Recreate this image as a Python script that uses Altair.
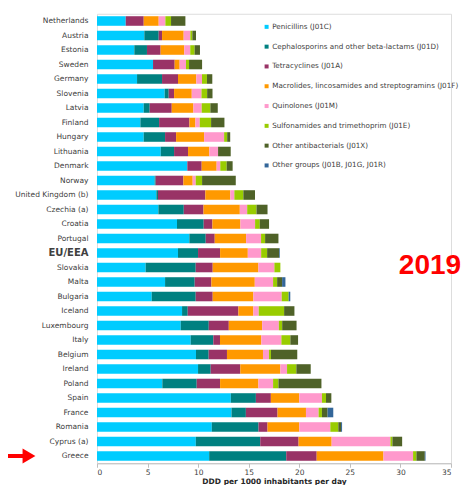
import altair as alt
import pandas as pd

countries = ["Netherlands", "Austria", "Estonia", "Sweden", "Germany", "Slovenia", "Latvia",
             "Finland", "Hungary", "Lithuania", "Denmark", "Norway", "United Kingdom (b)",
             "Czechia (a)", "Croatia", "Portugal", "EU/EEA", "Slovakia", "Malta", "Bulgaria",
             "Iceland", "Luxembourg", "Italy", "Belgium", "Ireland", "Poland", "Spain", "France",
             "Romania", "Cyprus (a)", "Greece"]

categories = ["Penicillins (J01C)", "Cephalosporins and other beta-lactams (J01D)",
              "Tetracyclines (J01A)", "Macrolides, lincosamides and streptogramins (J01F)",
              "Quinolones (J01M)", "Sulfonamides and trimethoprim (J01E)",
              "Other antibacterials (J01X)", "Other groups (J01B, J01G, J01R)"]

colors = ["#00CCFF", "#008080", "#993366", "#FF9900", "#FF99CC", "#99CC00", "#4F6228", "#336699"]

penicillins = [2.84, 4.68, 3.69, 5.54, 3.96, 6.69, 4.62, 4.29, 4.62, 6.30, 8.93, 5.70, 5.87, 6.07,
               7.91, 9.13, 8.01, 4.81, 6.73, 5.41, 8.41, 8.28, 9.26, 9.79, 9.99, 6.46, 13.23, 13.30,
               11.35, 9.77, 11.09]
cephalosporins = [0, 1.42, 1.25, 0, 2.47, 0.40, 0.59, 1.85, 2.11, 1.32, 0, 0.10, 0.16, 2.51, 2.64,
                  1.62, 1.98, 4.95, 2.93, 4.35, 0.56, 2.77, 2.24, 1.25, 1.25, 3.40, 2.48, 1.42, 4.62,
                  6.37, 7.62]
tetracyclines = [1.78, 0.33, 1.35, 2.14, 1.58, 0.53, 2.18, 3.00, 1.09, 1.38, 1.42, 2.74, 4.68, 1.95,
                 0.86, 0.89, 2.18, 1.68, 1.65, 1.68, 5.01, 1.98, 0.66, 1.81, 2.93, 2.31, 1.48, 3.13,
                 0.89, 3.79, 3.01]
macrolides = [1.48, 2.14, 2.34, 0.49, 1.81, 1.75, 2.14, 0.59, 2.77, 2.11, 1.48, 0.92, 2.47, 3.59,
              2.77, 3.10, 2.74, 4.52, 4.29, 4.02, 1.48, 3.30, 4.09, 3.56, 3.96, 3.79, 2.81, 2.81,
              3.14, 3.27, 6.60]
quinolones = [0.66, 0.66, 0.59, 0.63, 0.56, 0.96, 0.82, 0.43, 1.98, 0.86, 0.36, 0.30, 0.40, 0.73,
              1.45, 1.48, 1.32, 1.58, 1.81, 2.80, 0.53, 1.65, 1.98, 0.59, 0.66, 1.45, 2.24, 1.25,
              3.07, 5.81, 2.93]
sulfonamides = [0.56, 0.20, 0.43, 0.30, 0.49, 0.56, 0.86, 1.12, 0.30, 0, 0.63, 0.63, 0.89, 0.92,
                0.46, 0.40, 0.59, 0.59, 0.40, 0.69, 2.51, 0.33, 0.89, 0.20, 0.92, 0.53, 0.40, 0.33,
                0.79, 0.20, 0.33]
other_antibacterials = [1.42, 0.36, 0.53, 1.29, 0.53, 0.53, 0.73, 1.32, 0.30, 1.25, 0.59, 3.33, 1.15,
                        1.09, 0.92, 1.32, 1.19, 0, 0.49, 0, 1.02, 1.42, 0.76, 2.60, 1.42, 4.25, 0.53,
                        0.56, 0.27, 0.96, 0.83]
other_groups = [0, 0, 0, 0, 0, 0, 0, 0, 0, 0, 0, 0, 0, 0, 0, 0, 0.07, 0, 0.33, 0.16, 0, 0, 0, 0, 0,
                0, 0, 0.56, 0.10, 0, 0.07]

series = [penicillins, cephalosporins, tetracyclines, macrolides, quinolones, sulfonamides,
          other_antibacterials, other_groups]

x_ticks = [0, 5, 10, 15, 20, 25, 30, 35]

rows = []
for ci, (cat, vals) in enumerate(zip(categories, series)):
    for country, v in zip(countries, vals):
        rows.append({"country": country, "category": cat, "value": v, "order": ci})
df = pd.DataFrame(rows)

FONT = "DejaVu Sans"

bars = alt.Chart(df).mark_bar().encode(
    x=alt.X("value:Q", stack="zero",
            scale=alt.Scale(domain=[0, 35], nice=False),
            axis=alt.Axis(values=x_ticks, title="DDD per 1000 inhabitants per day",
                          grid=False, labelFontSize=7.5, labelColor="#404040",
                          titleFontSize=7.5, titleFontWeight="bold", titleColor="#262626",
                          titlePadding=2, labelFont=FONT, titleFont=FONT,
                          domainColor="#bfbfbf", tickColor="#bfbfbf", tickSize=4,
                          labelPadding=1)),
    y=alt.Y("country:N", sort=countries,
            scale=alt.Scale(paddingInner=0.34, paddingOuter=0.17),
            axis=alt.Axis(title=None, ticks=False, domain=False, labelPadding=9,
                          labelFont=FONT, labelColor="#404040", labelLimit=200,
                          labelFontSize=alt.condition("datum.value == 'EU/EEA'", alt.value(10), alt.value(7.5)),
                          labelFontWeight=alt.condition("datum.value == 'EU/EEA'", alt.value("bold"), alt.value("normal")))),
    color=alt.Color("category:N", sort=categories,
                    scale=alt.Scale(domain=categories, range=colors),
                    legend=alt.Legend(title=None, orient="none", legendX=166, legendY=9.5,
                                      symbolType="square", symbolSize=16, symbolStrokeWidth=0,
                                      labelFontSize=7.2, labelFont=FONT, labelColor="#404040",
                                      rowPadding=11.8, labelOffset=2, labelLimit=300)),
    order=alt.Order("order:Q"),
)

year = alt.Chart(pd.DataFrame({"t": ["2019"]})).mark_text(
    color="#FF0000", fontSize=28, fontWeight="bold", font="Liberation Sans",
    align="center", baseline="middle"
).encode(text="t:N", x=alt.value(333), y=alt.value(252))

arrow_shaft = alt.Chart(pd.DataFrame({"a": [1]})).mark_rule(
    color="#FF0000", strokeWidth=4
).encode(x=alt.value(-89), x2=alt.value(-72), y=alt.value(442.25))

arrow_head = alt.Chart(pd.DataFrame({"a": [1]})).mark_point(
    shape="triangle-right", filled=True, color="#FF0000", size=220, opacity=1
).encode(x=alt.value(-68), y=alt.value(442.25))

chart = alt.layer(bars, year, arrow_shaft, arrow_head).properties(
    width=354, height=449.5,
    autosize=alt.AutoSizeParams(type="none"),
    padding={"left": 89, "top": 5.75, "right": 11, "bottom": 22},
).configure_view(stroke=None).configure(background="white")

chart.save("out.html", embed_options={"renderer": "svg", "actions": False})
